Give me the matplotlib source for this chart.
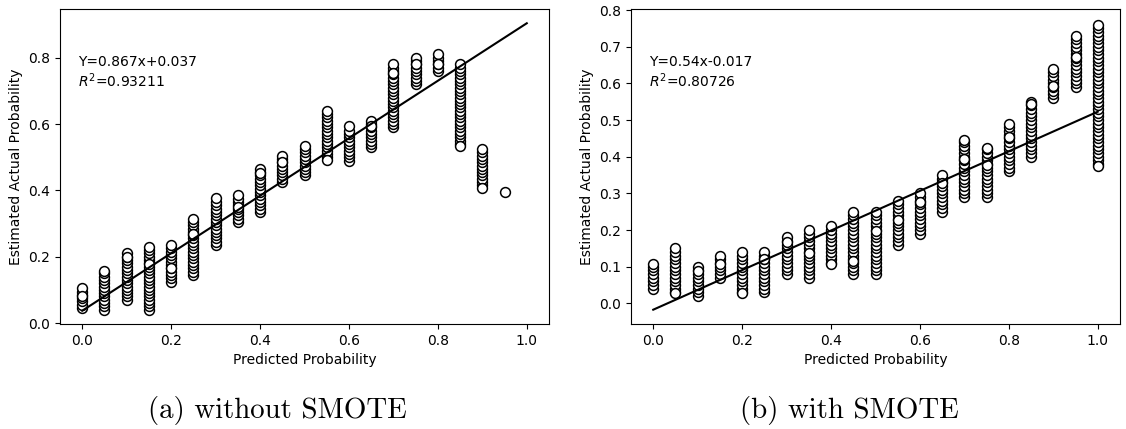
"""Calibration scatter: predicted vs estimated actual probability, with and without SMOTE."""

import matplotlib

matplotlib.use("Agg")
import matplotlib.pyplot as plt

# predicted-probability bins (x positions of the columns)
X_A = [0.0, 0.05, 0.1, 0.15, 0.2, 0.25, 0.3, 0.35, 0.4, 0.45,
       0.5, 0.55, 0.6, 0.65, 0.7, 0.75, 0.8, 0.85, 0.9, 0.95]
X_B = [0.0, 0.05, 0.1, 0.15, 0.2, 0.25, 0.3, 0.35, 0.4, 0.45,
       0.5, 0.55, 0.6, 0.65, 0.7, 0.75, 0.8, 0.85, 0.9, 0.95, 1.0]

# estimated actual probabilities per bin, without SMOTE (read off the stacks)
Y_A = [
    [0.045, 0.055, 0.065, 0.075, 0.085, 0.095, 0.105],
    [0.04, 0.05, 0.06, 0.07, 0.08, 0.09, 0.10, 0.11, 0.12, 0.13, 0.14, 0.15],
    [0.07, 0.08, 0.09, 0.10, 0.11, 0.12, 0.13, 0.14, 0.15, 0.16, 0.17, 0.18, 0.19, 0.20, 0.21],
    [0.04, 0.05, 0.06, 0.07, 0.08, 0.09, 0.10, 0.11, 0.12, 0.13, 0.14, 0.15, 0.16, 0.17,
     0.18, 0.19, 0.20, 0.21, 0.22, 0.23],
    [0.125, 0.135, 0.145, 0.155, 0.165, 0.175, 0.185, 0.195, 0.205, 0.215, 0.225, 0.235],
    [0.145, 0.155, 0.165, 0.175, 0.185, 0.195, 0.205, 0.215, 0.225, 0.235, 0.245, 0.255,
     0.265, 0.275, 0.285, 0.295, 0.305, 0.315],
    [0.235, 0.245, 0.255, 0.265, 0.275, 0.285, 0.295, 0.305, 0.315, 0.325, 0.335, 0.345,
     0.355, 0.365],
    [0.305, 0.315, 0.325, 0.335, 0.345, 0.355, 0.365, 0.375, 0.385],
    [0.335, 0.345, 0.355, 0.365, 0.375, 0.385, 0.395, 0.405, 0.415, 0.425, 0.435, 0.445,
     0.455, 0.465],
    [0.425, 0.435, 0.445, 0.455, 0.465, 0.475, 0.485, 0.495, 0.505],
    [0.445, 0.455, 0.465, 0.475, 0.485, 0.495, 0.505, 0.515, 0.525],
    [0.50, 0.51, 0.52, 0.53, 0.54, 0.55, 0.56, 0.57, 0.58, 0.59, 0.60, 0.61, 0.62, 0.63, 0.64],
    [0.49, 0.50, 0.51, 0.52, 0.53, 0.54, 0.55, 0.56, 0.57, 0.58],
    [0.53, 0.54, 0.55, 0.56, 0.57, 0.58, 0.59, 0.60, 0.61],
    [0.59, 0.60, 0.61, 0.62, 0.63, 0.64, 0.65, 0.66, 0.67, 0.68, 0.69, 0.70, 0.71, 0.72,
     0.73, 0.74, 0.75, 0.76, 0.77, 0.78],
    [0.72, 0.73, 0.74, 0.75, 0.76, 0.77, 0.78, 0.79, 0.80],
    [0.76, 0.77, 0.78, 0.79, 0.80, 0.81],
    [0.54, 0.55, 0.56, 0.57, 0.58, 0.59, 0.60, 0.61, 0.62, 0.63, 0.64, 0.65, 0.66, 0.67,
     0.68, 0.69, 0.70, 0.71, 0.72, 0.73, 0.74, 0.75, 0.76, 0.77, 0.78],
    [0.415, 0.425, 0.435, 0.445, 0.455, 0.465, 0.475, 0.485, 0.495, 0.505, 0.515, 0.525],
    [],
]
# last sample drawn in each bin (ends up on top of the stack)
LAST_A = [0.08, 0.158, 0.198, 0.177, 0.167, 0.268, 0.378, 0.35, 0.453, 0.486,
          0.534, 0.493, 0.593, 0.593, 0.754, 0.782, 0.782, 0.533, 0.406, 0.395]

# with SMOTE
Y_B = [
    [0.04, 0.05, 0.06, 0.07, 0.08, 0.09, 0.10],
    [0.03, 0.04, 0.05, 0.06, 0.07, 0.08, 0.09, 0.10, 0.11, 0.12, 0.13, 0.14, 0.15],
    [0.02, 0.03, 0.04, 0.05, 0.06, 0.07, 0.08, 0.09, 0.10],
    [0.07, 0.08, 0.09, 0.10, 0.11, 0.12, 0.13],
    [0.03, 0.04, 0.05, 0.06, 0.07, 0.08, 0.09, 0.10, 0.11, 0.12, 0.13, 0.14],
    [0.03, 0.04, 0.05, 0.06, 0.07, 0.08, 0.09, 0.10, 0.11, 0.12, 0.13, 0.14],
    [0.08, 0.09, 0.10, 0.11, 0.12, 0.13, 0.14, 0.15, 0.16, 0.17, 0.18],
    [0.07, 0.08, 0.09, 0.10, 0.11, 0.12, 0.13, 0.14, 0.15, 0.16, 0.17, 0.18, 0.19, 0.20],
    [0.11, 0.12, 0.13, 0.14, 0.15, 0.16, 0.17, 0.18, 0.19, 0.20, 0.21],
    [0.08, 0.09, 0.10, 0.11, 0.12, 0.13, 0.14, 0.15, 0.16, 0.17, 0.18, 0.19, 0.20, 0.21,
     0.22, 0.23, 0.24, 0.25],
    [0.08, 0.09, 0.10, 0.11, 0.12, 0.13, 0.14, 0.15, 0.16, 0.17, 0.18, 0.19, 0.20, 0.21,
     0.22, 0.23, 0.24, 0.25],
    [0.16, 0.17, 0.18, 0.19, 0.20, 0.21, 0.22, 0.23, 0.24, 0.25, 0.26, 0.27, 0.28],
    [0.19, 0.20, 0.21, 0.22, 0.23, 0.24, 0.25, 0.26, 0.27, 0.28, 0.29, 0.30],
    [0.25, 0.26, 0.27, 0.28, 0.29, 0.30, 0.31, 0.32, 0.33, 0.34, 0.35],
    [0.29, 0.30, 0.31, 0.32, 0.33, 0.34, 0.35, 0.36, 0.37, 0.38, 0.39, 0.40, 0.41, 0.42,
     0.43, 0.44, 0.445],
    [0.29, 0.30, 0.31, 0.32, 0.33, 0.34, 0.35, 0.36, 0.37, 0.38, 0.39, 0.40, 0.41, 0.42,
     0.425],
    [0.36, 0.37, 0.38, 0.39, 0.40, 0.41, 0.42, 0.43, 0.44, 0.45, 0.46, 0.47, 0.48, 0.49],
    [0.40, 0.41, 0.42, 0.43, 0.44, 0.45, 0.46, 0.47, 0.48, 0.49, 0.50, 0.51, 0.52, 0.53,
     0.54, 0.55],
    [0.56, 0.57, 0.58, 0.59, 0.60, 0.61, 0.62, 0.63, 0.64],
    [0.59, 0.60, 0.61, 0.62, 0.63, 0.64, 0.65, 0.66, 0.67, 0.68, 0.69, 0.70, 0.71, 0.72, 0.73],
    [0.38, 0.39, 0.40, 0.41, 0.42, 0.43, 0.44, 0.45, 0.46, 0.47, 0.48, 0.49, 0.50, 0.51,
     0.52, 0.53, 0.54, 0.55, 0.56, 0.57, 0.58, 0.59, 0.60, 0.61, 0.62, 0.63, 0.64, 0.65,
     0.66, 0.67, 0.68, 0.69, 0.70, 0.71, 0.72, 0.73, 0.74, 0.75, 0.76],
]
LAST_B = [0.107, 0.028, 0.088, 0.107, 0.028, 0.12, 0.167, 0.138, 0.107, 0.117, 0.197,
          0.227, 0.277, 0.328, 0.395, 0.377, 0.454, 0.544, 0.594, 0.671, 0.376]

# fitted line coefficients and R^2 as printed on the chart
FIT_A = (0.867, 0.037, "0.93211")
FIT_B = (0.54, -0.017, "0.80726")
FIT_TEXT_A = "Y=0.867x+0.037"
FIT_TEXT_B = "Y=0.54x-0.017"
CAPTIONS = ["(a) without SMOTE", "(b) with SMOTE"]


def draw(ax, xs, ys, last, fit, fit_text):
    for x, col, top in zip(xs, ys, last):
        px = [x] * (len(col) + 1)
        py = list(col) + [top]
        ax.scatter(px, py, s=50, facecolor="white", edgecolor="black", linewidths=1.1, zorder=2)
    slope, intercept, r2 = fit
    ax.plot([0, 1], [intercept, slope + intercept], color="black", linewidth=1.5, zorder=3)
    ax.text(0.036, 0.855, f"{fit_text}\n$R^2$={r2}", transform=ax.transAxes,
            va="top", ha="left", fontsize=10)
    ax.set_xlabel("Predicted Probability", fontsize=10)
    ax.set_ylabel("Estimated Actual Probability", fontsize=10)
    ax.set_xlim(-0.05, 1.05)


fig = plt.figure(figsize=(11.26, 4.29), dpi=100)
ax_a = fig.add_axes([60 / 1126, 105 / 429, 489 / 1126, 315 / 429])
ax_b = fig.add_axes([631 / 1126, 105 / 429, 489 / 1126, 315 / 429])

draw(ax_a, X_A, Y_A, LAST_A, FIT_A, FIT_TEXT_A)
ax_a.set_ylim(-0.003, 0.947)
ax_a.set_yticks([0.0, 0.2, 0.4, 0.6, 0.8])

draw(ax_b, X_B, Y_B, LAST_B, FIT_B, FIT_TEXT_B)
ax_b.set_ylim(-0.056, 0.803)

for ax in (ax_a, ax_b):
    ax.set_xticks([0.0, 0.2, 0.4, 0.6, 0.8, 1.0])
    ax.tick_params(labelsize=10)

fig.text(277 / 1126, 0.043, CAPTIONS[0], ha="center", va="center", fontsize=20.8, family="cmr10")
fig.text(849.5 / 1126, 0.043, CAPTIONS[1], ha="center", va="center", fontsize=20.8, family="cmr10")

fig.savefig("out.png", dpi=100)
